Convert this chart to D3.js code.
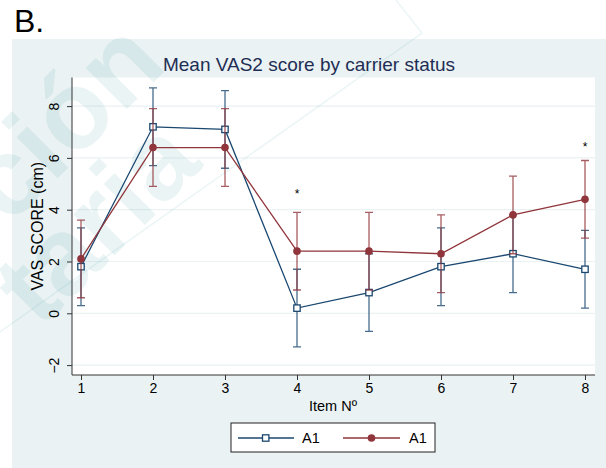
<!DOCTYPE html>
<meta charset='utf-8'>
<style>
  body { margin: 0; background: #fff; }
  text { font-family: "Liberation Sans", Arial, sans-serif; }
</style>
<svg width="606" height="468"></svg>
<script src="https://d3js.org/d3.v7.min.js"></script>
<script>

// data
var items = [1, 2, 3, 4, 5, 6, 7, 8];
var blueMean = [1.8, 7.2, 7.1, 0.2, 0.8, 1.8, 2.3, 1.7];
var blueLo   = [0.3, 5.7, 5.6, -1.3, -0.7, 0.3, 0.8, 0.2];
var blueHi   = [3.3, 8.7, 8.6, 1.7, 2.3, 3.3, 3.8, 3.2];
var redMean  = [2.1, 6.4, 6.4, 2.4, 2.4, 2.3, 3.8, 4.4];
var redLo    = [0.6, 4.9, 4.9, 0.9, 0.9, 0.8, 2.3, 2.9];
var redHi    = [3.6, 7.9, 7.9, 3.9, 3.9, 3.8, 5.3, 5.9];
var yTicks = [-2, 0, 2, 4, 6, 8];
var starItems = [4, 8];
var starVals = [4.7, 6.5];
var legendLabels = ["A1", "A1"];

var blue = "#1a476f", red = "#90353b";

var svg = d3.select("svg");

// panel letter
svg.append("text")
  .attr("x", 14).attr("y", 32)
  .style("font-size", "32px")
  .text("B.");

// graph region
svg.append("rect")
  .attr("x", 12).attr("y", 39)
  .attr("width", 594).attr("height", 429)
  .attr("fill", "#eaf2f3");

var x = d3.scaleLinear().domain([1, 8]).range([81, 585]);
var y = d3.scaleLinear().domain([-2, 8]).range([365.1, 106.1]);

var pLeft = 72, pRight = 595, pTop = 77.5, pBottom = 375;

// plot region
svg.append("rect")
  .attr("x", pLeft).attr("y", pTop)
  .attr("width", pRight - pLeft).attr("height", pBottom - pTop)
  .attr("fill", "#fff");

// grid
svg.append("g").selectAll("line")
  .data(yTicks)
  .enter().append("line")
  .attr("x1", pLeft).attr("x2", pRight)
  .attr("y1", d => y(d)).attr("y2", d => y(d))
  .attr("stroke", "#eaf2f3").attr("stroke-width", 1.2);

// watermark (faint)
var wm = svg.append("g").attr("pointer-events", "none")
  .attr("fill", "#3f9aa2").attr("opacity", 0.1)
  .style("font-size", "110px").style("font-weight", "bold");
wm.append("text")
  .attr("transform", "translate(9,227) rotate(-45)")
  .text("ción");
wm.append("text")
  .attr("transform", "translate(40,330) rotate(-45)")
  .text("taria");
svg.append("path")
  .attr("d", "M0,332 L422,33 L396,0")
  .attr("fill", "none")
  .attr("stroke", "#3f9aa2").attr("stroke-opacity", 0.1).attr("stroke-width", 1.5);

// axes
var yAxis = svg.append("g")
  .attr("transform", "translate(" + pLeft + ",0)")
  .call(d3.axisLeft(y).tickValues(yTicks).tickSize(5).tickPadding(4));
yAxis.select(".domain").attr("d", "M0," + pTop + "V" + pBottom);
yAxis.selectAll(".tick text")
  .attr("transform", "rotate(-90)")
  .attr("x", 0).attr("dy", "0.35em").attr("y", -17.5)
  .style("text-anchor", "middle")
  .style("font-size", "14px");

var xAxis = svg.append("g")
  .attr("transform", "translate(0," + pBottom + ")")
  .call(d3.axisBottom(x).tickValues(items).tickFormat(d3.format("d")).tickSize(5).tickPadding(3));
xAxis.select(".domain").attr("d", "M" + pLeft + ",0H" + pRight);
xAxis.selectAll(".tick text").style("font-size", "14px");
svg.selectAll(".domain, .tick line").attr("stroke", "#333");

// titles
svg.append("text")
  .attr("x", 309).attr("y", 71)
  .attr("text-anchor", "middle")
  .attr("fill", "#1e2d53")
  .style("font-size", "19px")
  .text("Mean VAS2 score by carrier status");

svg.append("text")
  .attr("x", 333).attr("y", 411)
  .attr("text-anchor", "middle")
  .style("font-size", "14.5px")
  .text("Item Nº");

svg.append("text")
  .attr("transform", "translate(42.5," + ((pTop + pBottom) / 2) + ") rotate(-90)")
  .attr("text-anchor", "middle")
  .style("font-size", "16px")
  .text("VAS SCORE (cm)");

// series
function drawSeries(mean, lo, hi, color, marker) {
  var g = svg.append("g");
  g.selectAll(".bar").data(items).enter().append("path")
    .attr("d", (d, i) => "M" + (x(d) - 4) + "," + y(hi[i]) + "H" + (x(d) + 4)
      + "M" + x(d) + "," + y(hi[i]) + "V" + y(lo[i])
      + "M" + (x(d) - 4) + "," + y(lo[i]) + "H" + (x(d) + 4))
    .attr("fill", "none").attr("stroke", color)
    .attr("stroke-opacity", 0.8).attr("stroke-width", 1.3);
  var line = d3.line().x((d, i) => x(d)).y((d, i) => y(mean[i]));
  g.append("path").datum(items)
    .attr("d", line)
    .attr("fill", "none").attr("stroke", color).attr("stroke-width", 1.3);
  if (marker === "square") {
    g.selectAll(".m").data(items).enter().append("rect")
      .attr("x", (d) => x(d) - 3.2).attr("y", (d, i) => y(mean[i]) - 3.2)
      .attr("width", 6.4).attr("height", 6.4)
      .attr("fill", "#fff").attr("stroke", color).attr("stroke-width", 1.3);
  } else {
    g.selectAll(".m").data(items).enter().append("circle")
      .attr("cx", (d) => x(d)).attr("cy", (d, i) => y(mean[i]))
      .attr("r", 3.8).attr("fill", color);
  }
}
drawSeries(blueMean, blueLo, blueHi, blue, "square");
drawSeries(redMean, redLo, redHi, red, "circle");

// significance stars
svg.selectAll(".star").data(starItems).enter().append("text")
  .attr("x", d => x(d)).attr("y", (d, i) => y(starVals[i]) + 6)
  .attr("text-anchor", "middle")
  .style("font-size", "12px")
  .text("*");

// legend
var lg = svg.append("g");
lg.append("rect")
  .attr("x", 231).attr("y", 423)
  .attr("width", 204).attr("height", 29)
  .attr("fill", "#fff").attr("stroke", "#222").attr("stroke-width", 1);
var ly = 438;
lg.append("line").attr("x1", 238).attr("x2", 294).attr("y1", ly).attr("y2", ly)
  .attr("stroke", blue).attr("stroke-width", 1.3);
lg.append("rect").attr("x", 262.5).attr("y", ly - 3.2).attr("width", 6.4).attr("height", 6.4)
  .attr("fill", "#fff").attr("stroke", blue).attr("stroke-width", 1.3);
lg.append("line").attr("x1", 343).attr("x2", 400).attr("y1", ly).attr("y2", ly)
  .attr("stroke", red).attr("stroke-width", 1.3);
lg.append("circle").attr("cx", 371.5).attr("cy", ly).attr("r", 3.8).attr("fill", red);
lg.selectAll(".lt").data(legendLabels).enter().append("text")
  .attr("x", (d, i) => i === 0 ? 302 : 409)
  .attr("y", ly + 5)
  .style("font-size", "14.5px")
  .text(d => d);

</script>
